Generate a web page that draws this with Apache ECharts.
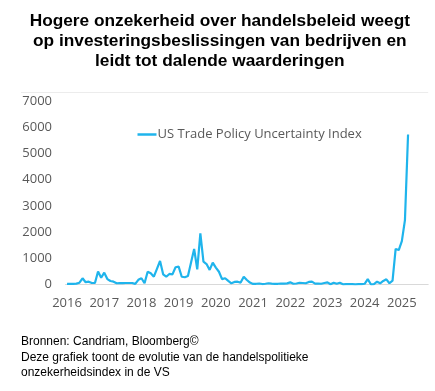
<!DOCTYPE html>
<html>
<head>
<meta charset="utf-8">
<script src="https://cdn.jsdelivr.net/npm/echarts@6/dist/echarts.min.js"></script>
<style>html,body{margin:0;padding:0;background:#fff;}#c{width:435px;height:391px;}</style>
</head>
<body>
<div id="c"></div>
<script>
// Monthly index values
const v2016 = [20, 15, 20, 25, 60, 230, 80, 100, 50, 50, 490, 250];
const v2017 = [445, 200, 125, 100, 40, 45, 45, 50, 50, 50, 15, 170];
const v2018 = [230, 40, 480, 420, 290, 590, 890, 380, 290, 395, 380, 650];
const v2019 = [675, 290, 270, 320, 830, 1350, 570, 1945, 865, 775, 550, 830];
const v2020 = [640, 480, 200, 230, 130, 40, 90, 100, 65, 290, 165, 65];
const v2021 = [15, 20, 30, 10, 20, 40, 25, 15, 20, 30, 25, 35];
const v2022 = [75, 20, 30, 60, 50, 40, 90, 100, 25, 30, 20, 50];
const v2023 = [75, 0, 60, 20, 60, 0, 10, 10, 10, 0, 5, 10];
const v2024 = [20, 200, 0, 10, 100, 40, 130, 190, 40, 140, 1350, 1310];
const v2025 = [1650, 2455, 5725];

const years = ['2016','2017','2018','2019','2020','2021','2022','2023','2024','2025'];
const seriesName = 'US Trade Policy Uncertainty Index';
const titleText = 'Hogere onzekerheid over handelsbeleid weegt\nop investeringsbeslissingen van bedrijven en\nleidt tot dalende waarderingen';
const footText = 'Bronnen: Candriam, Bloomberg©\nDeze grafiek toont de evolutie van de handelspolitieke\nonzekerheidsindex in de VS';

const values = [].concat(v2016, v2017, v2018, v2019, v2020, v2021, v2022, v2023, v2024, v2025);
// month categories, Jan 2016 .. Sep 2025 (axis extends past the last value)
const months = [];
for (let y = 2016; y <= 2025; y++) {
  for (let m = 1; m <= 12; m++) {
    if (y === 2025 && m > 9) break;
    months.push(y + '-' + (m < 10 ? '0' + m : m));
  }
}

const chart = echarts.init(document.getElementById('c'), null, {renderer: 'canvas'});
const axisFont = '"Open Sans", sans-serif';
chart.setOption({
  animation: false,
  backgroundColor: '#ffffff',
  grid: {left: 65.5, right: 6.8, top: 92, bottom: 106.7, containLabel: false},
  legend: {
    data: [seriesName],
    left: 132.5, top: 123,
    icon: 'rect', itemWidth: 19, itemHeight: 2.5,
    textStyle: {color: '#595959', fontFamily: axisFont, fontSize: 13, padding: [0, 0, 0, -4]}
  },
  xAxis: {
    type: 'category',
    data: months,
    boundaryGap: true,
    axisLine: {show: true, lineStyle: {color: '#d9d9d9', width: 1}},
    axisTick: {show: false},
    splitLine: {show: false},
    axisLabel: {
      interval: 11,
      margin: 12,
      color: '#595959', fontFamily: axisFont, fontSize: 13,
      formatter: function (v) { const y = v.slice(0, 4); return years.indexOf(y) >= 0 ? y : ''; }
    }
  },
  yAxis: {
    type: 'value',
    min: 0, max: 7350, interval: 1000,
    axisLine: {show: false},
    axisTick: {show: false},
    splitLine: {show: false},
    axisLabel: {showMaxLabel: false, margin: 13.5, color: '#595959', fontFamily: axisFont, fontSize: 13,
      formatter: function (v) { return String(v); }}
  },
  series: [{
    name: seriesName,
    type: 'line',
    data: values,
    symbol: 'none',
    lineStyle: {color: '#1FB4EC', width: 2.2},
    itemStyle: {color: '#1FB4EC'},
    markLine: {
      silent: true, symbol: 'none', label: {show: false},
      lineStyle: {color: '#ececec', width: 1, type: 'solid'},
      data: [[{x: 21, yAxis: 7350}, {x: 428.2, yAxis: 7350}]]
    }
  }],
  graphic: [
    {type: 'text', x: 219.8, y: 11, style: {
      text: titleText, fill: '#000', font: 'bold 17.3px "Liberation Sans", Arial, sans-serif',
      lineHeight: 20, align: 'center', verticalAlign: 'top'
    }},
    {type: 'text', x: 21, y: 334, style: {
      text: footText, fill: '#000', font: '12px "Liberation Sans", Arial, sans-serif', lineHeight: 15.5,
      align: 'left', verticalAlign: 'top'
    }}
  ]
});
</script>
</body>
</html>
